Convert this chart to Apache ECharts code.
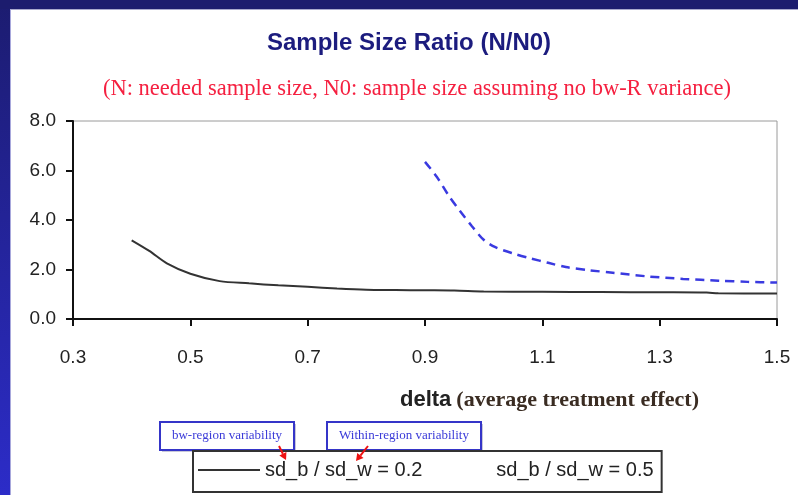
<!DOCTYPE html>
<html>
<head>
<meta charset="utf-8">
<script src="https://cdn.jsdelivr.net/npm/echarts@6/dist/echarts.min.js"></script>
<style>
html,body{margin:0;padding:0;background:#fff;}
#chart{width:798px;height:495px;}
</style>
</head>
<body>
<div id="chart"></div>
<script>
// ---- data ----
const seriesNames = ['sd_b / sd_w = 0.2', 'sd_b / sd_w = 0.5'];
const deltaLow = [0.40, 0.43, 0.46, 0.50, 0.55, 0.60, 0.65, 0.70, 0.75, 0.80, 0.85, 0.90, 0.95, 1.00, 1.10, 1.20, 1.30, 1.38, 1.40, 1.50];
const ratioLow = [3.18, 2.75, 2.25, 1.83, 1.53, 1.44, 1.36, 1.30, 1.23, 1.18, 1.17, 1.16, 1.15, 1.11, 1.10, 1.09, 1.08, 1.07, 1.04, 1.03];
const deltaHigh = [0.90, 0.92, 0.94, 0.96, 0.98, 1.00, 1.02, 1.05, 1.08, 1.11, 1.14, 1.18, 1.22, 1.28, 1.34, 1.40, 1.45, 1.50];
const ratioHigh = [6.35, 5.75, 5.00, 4.35, 3.75, 3.20, 2.90, 2.65, 2.45, 2.27, 2.10, 1.97, 1.87, 1.72, 1.62, 1.55, 1.50, 1.47];
const xTicks = [0.3, 0.5, 0.7, 0.9, 1.1, 1.3, 1.5];
const yTicks = [0, 2, 4, 6, 8];
const titleText = 'Sample Size Ratio (N/N0)';
const subtitleText = '(N: needed sample size, N0: sample size assuming no bw-R variance)';
const xNameMain = 'delta';
const xNameSub = '(average treatment effect)';
const noteLeft = 'bw-region variability';
const noteRight = 'Within-region variability';

const sans = '"Liberation Sans", Arial, sans-serif';
const serif = '"Liberation Serif", "Times New Roman", serif';

const chart = echarts.init(document.getElementById('chart'), null, {renderer: 'canvas'});

const lowData = deltaLow.map((d, i) => [d, ratioLow[i]]);
const highData = deltaHigh.map((d, i) => [d, ratioHigh[i]]);

function noteBox(x, y, w, h, text, fs) {
  return {
    type: 'group', left: x, top: y,
    children: [
      {type: 'rect', shape: {x: 2, y: 2, width: w, height: h}, style: {fill: '#c8c8d8'}},
      {type: 'rect', shape: {x: 0, y: 0, width: w, height: h}, style: {fill: '#fff', stroke: '#3535c8', lineWidth: 2}},
      {type: 'text', x: w / 2, y: h / 2, style: {text: text, fill: '#3a3ad8', font: fs + 'px ' + serif, align: 'center', verticalAlign: 'middle'}}
    ]
  };
}
function arrow(x1, y1, x2, y2) {
  const ang = Math.atan2(y2 - y1, x2 - x1);
  const L = 7, W = 4;
  const bx = x2 - L * Math.cos(ang), by = y2 - L * Math.sin(ang);
  const px = -Math.sin(ang) * W, py = Math.cos(ang) * W;
  return [
    {type: 'line', shape: {x1: x1, y1: y1, x2: bx, y2: by}, style: {stroke: '#ee1111', lineWidth: 2}, z: 100},
    {type: 'polygon', shape: {points: [[x2, y2], [bx + px, by + py], [bx - px, by - py]]}, style: {fill: '#ee1111'}, z: 100}
  ];
}

const option = {
  backgroundColor: '#ffffff',
  animation: false,
  title: [
    {text: titleText, left: 267, top: 31, padding: 0,
     textStyle: {fontFamily: sans, fontWeight: 'bold', fontSize: 24, color: '#1c1c7e'}},
    {text: subtitleText, left: 103, top: 78, padding: 0,
     textStyle: {fontFamily: serif, fontWeight: 'normal', fontSize: 22.5, color: '#f52040'}},
    {text: '{a|' + xNameMain + '} {b|' + xNameSub + '}', left: 400, top: 389, padding: 0,
     textStyle: {rich: {
       a: {fontFamily: sans, fontWeight: 'bold', fontSize: 22, color: '#222'},
       b: {fontFamily: serif, fontWeight: 'bold', fontSize: 22, color: '#3a2c22'}
     }}}
  ],
  grid: {left: 73, right: 21, top: 121, bottom: 176, show: true, borderColor: '#9a9a9a', borderWidth: 1, containLabel: false},
  legend: {
    left: 193, top: 451,
    data: [
      {name: seriesNames[0], itemStyle: {opacity: 0}},
      {name: seriesNames[1], itemStyle: {opacity: 0}, lineStyle: {opacity: 0}}
    ],
    itemWidth: 62, itemHeight: 14, itemGap: 6,
    padding: [9, 8, 12, 4],
    borderColor: '#333', borderWidth: 2, backgroundColor: '#fff',
    textStyle: {fontFamily: sans, fontSize: 20, color: '#222'},
    selectedMode: false
  },
  xAxis: {
    type: 'value', min: 0.3, max: 1.5,
    axisLine: {show: true, lineStyle: {color: '#111', width: 2}},
    axisTick: {show: true, customValues: xTicks, length: 7, lineStyle: {color: '#111', width: 2}},
    axisLabel: {customValues: xTicks, margin: 29, fontFamily: sans, fontSize: 19, color: '#222',
                formatter: v => v.toFixed(1)},
    splitLine: {show: false}
  },
  yAxis: {
    type: 'value', min: 0, max: 8, interval: 2,
    axisLine: {show: true, lineStyle: {color: '#111', width: 2}},
    axisTick: {show: true, length: 7, lineStyle: {color: '#111', width: 2}},
    axisLabel: {margin: 17, fontFamily: sans, fontSize: 19, color: '#222', formatter: v => v.toFixed(1)},
    splitLine: {show: false}
  },
  series: [
    {name: seriesNames[0], type: 'line', data: lowData, symbol: 'none', smooth: 0.3,
     lineStyle: {color: '#333', width: 2}, itemStyle: {color: '#333'}},
    {name: seriesNames[1], type: 'line', data: highData, symbol: 'none', smooth: 0.3,
     lineStyle: {color: '#3a3ae0', width: 2.5, type: [9, 6]}, itemStyle: {color: '#3a3ae0'}}
  ],
  graphic: [
    {type: 'rect', left: 0, top: 0, z: -10, shape: {width: 11, height: 495},
     style: {fill: new echarts.graphic.LinearGradient(0, 0, 0, 1, [{offset: 0, color: '#1c1c70'}, {offset: 1, color: '#2c2cc8'}])}},
    {type: 'rect', left: 0, top: 0, z: -9, shape: {width: 798, height: 9}, style: {fill: '#1c1c6e'}},
    {type: 'rect', left: 10, top: 9, z: -9, shape: {width: 788, height: 1}, style: {fill: '#a8a8cc'}},
    {type: 'rect', left: 10, top: 9, z: -9, shape: {width: 1, height: 486}, style: {fill: '#a8a8dc'}},
    noteBox(159, 421, 134, 28, noteLeft, 13),
    noteBox(326, 421, 154, 28, noteRight, 13),
    ...arrow(279, 446, 286, 460),
    ...arrow(368, 446, 356, 461)
  ]
};
chart.setOption(option);
</script>
</body>
</html>
